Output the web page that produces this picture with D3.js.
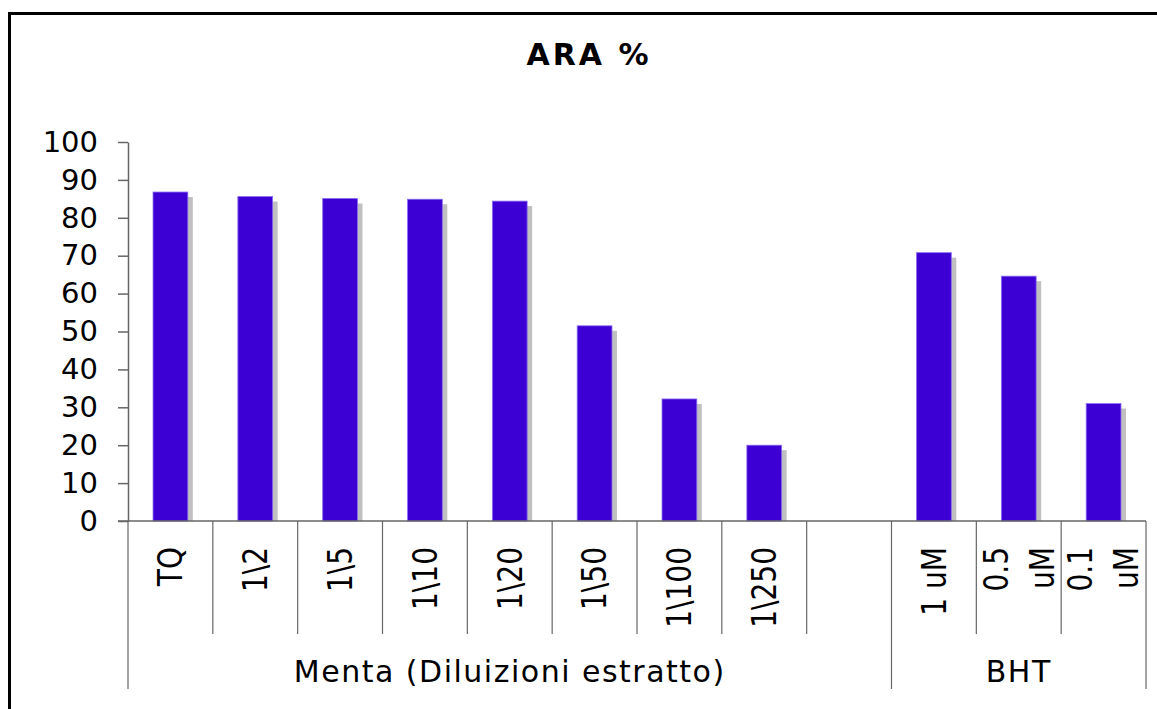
<!DOCTYPE html>
<html>
<head>
<meta charset="utf-8">
<script src="https://cdn.jsdelivr.net/npm/d3@7"></script>
<style>
  body { margin: 0; background: #fff; }
  svg { display: block; }
  svg text { font-family: "DejaVu Sans", Verdana, sans-serif; }
</style>
</head>
<body>
<div id="chart"></div>
<script>
// values
const categories = ["TQ", "1\\2", "1\\5", "1\\10", "1\\20", "1\\50", "1\\100", "1\\250", "", "1 uM", "0.5 uM", "0.1 uM"];
const values = [86.8, 85.6, 85.1, 84.9, 84.4, 51.5, 32.2, 20.0, null, 70.8, 64.6, 31.0];
const yTicks = [0, 10, 20, 30, 40, 50, 60, 70, 80, 90, 100];
const groupNames = ["Menta (Diluizioni estratto)", "BHT"];
const groupStart = [0, 9];
const groupEnd = [9, 12];

const width = 1157, height = 709;
const barColor = "#3d00d4";
const shadowColor = "#c0c0c0";
const lineColor = "#666";

const svg = d3.select("#chart").append("svg")
  .attr("width", width)
  .attr("height", height);

// outer frame (runs off the right and bottom edges)
svg.append("rect")
  .attr("x", 9.5).attr("y", 13.5)
  .attr("width", 1200).attr("height", 800)
  .attr("fill", "none")
  .attr("stroke", "#000")
  .attr("stroke-width", 3);

// title
svg.append("text")
  .attr("x", 589).attr("y", 65)
  .attr("text-anchor", "middle")
  .style("font-size", "30px")
  .style("font-weight", "bold")
  .style("letter-spacing", "3px")
  .text("ARA %");

const x = d3.scaleBand()
  .domain(d3.range(categories.length))
  .range([128, 1146])
  .padding(0);

const y = d3.scaleLinear()
  .domain([0, 100])
  .range([521, 142]);

const barW = x.bandwidth() * 0.41;

// bars with drop shadow
const bars = svg.append("g");
values.forEach(function(v, i) {
  if (v == null) return;
  const bx = x(i) + (x.bandwidth() - barW) / 2;
  bars.append("rect")
    .attr("x", bx + 5)
    .attr("y", y(v) + 5)
    .attr("width", barW)
    .attr("height", y(0) - y(v) - 5)
    .attr("fill", shadowColor);
  bars.append("rect")
    .attr("x", bx)
    .attr("y", y(v))
    .attr("width", barW)
    .attr("height", y(0) - y(v))
    .attr("fill", barColor)
    .attr("stroke", "#8a6cf2")
    .attr("stroke-width", 0.8);
});

// y axis
const yAxis = svg.append("g")
  .attr("transform", "translate(128,0)")
  .call(d3.axisLeft(y).tickValues(yTicks).tickSize(10).tickPadding(20).tickSizeOuter(0))
  .attr("font-family", null)
  .attr("font-size", null);
yAxis.select(".domain").attr("stroke", lineColor).attr("stroke-width", 1.5);
yAxis.selectAll(".tick line").attr("stroke", lineColor).attr("stroke-width", 1.5);
yAxis.selectAll(".tick text")
  .style("font-size", "29px")
  .attr("fill", "#000");

// baseline
svg.append("line")
  .attr("x1", 118).attr("x2", 1146)
  .attr("y1", y(0)).attr("y2", y(0))
  .attr("stroke", lineColor).attr("stroke-width", 1.5);

// category separators
const bounds = d3.range(categories.length + 1);
svg.append("g").selectAll("line")
  .data(bounds)
  .join("line")
  .attr("x1", function(d) { return d < categories.length ? x(d) : x.range()[1]; })
  .attr("x2", function(d) { return d < categories.length ? x(d) : x.range()[1]; })
  .attr("y1", y(0))
  .attr("y2", function(d) { return groupStart.includes(d) || groupEnd.includes(d) ? 689 : 634; })
  .attr("stroke", lineColor)
  .attr("stroke-width", 1.2);

// rotated category labels
const labels = svg.append("g");
categories.forEach(function(c, i) {
  if (!c) return;
  const lines = c.length > 4 ? c.split(" ") : [c];
  const cx = x(i) + x.bandwidth() / 2;
  const t = labels.append("text")
    .attr("transform", "translate(" + cx + ",547) rotate(-90) scale(0.85,1)")
    .attr("text-anchor", "end")
    .style("font-size", "33px");
  lines.forEach(function(l, k) {
    const off = lines.length === 1 ? 0 : (k === 0 ? -23 : 23);
    t.append("tspan")
      .attr("x", 0)
      .attr("y", off)
      .attr("dy", "0.36em")
      .text(l);
  });
});

// group labels
groupNames.forEach(function(g, i) {
  const x0 = x(groupStart[i]);
  const x1 = groupEnd[i] < categories.length ? x(groupEnd[i]) : x.range()[1];
  svg.append("text")
    .attr("x", (x0 + x1) / 2)
    .attr("y", 682)
    .attr("text-anchor", "middle")
    .style("font-size", "30px")
    .style("letter-spacing", "1.5px")
    .text(g);
});
</script>
</body>
</html>
